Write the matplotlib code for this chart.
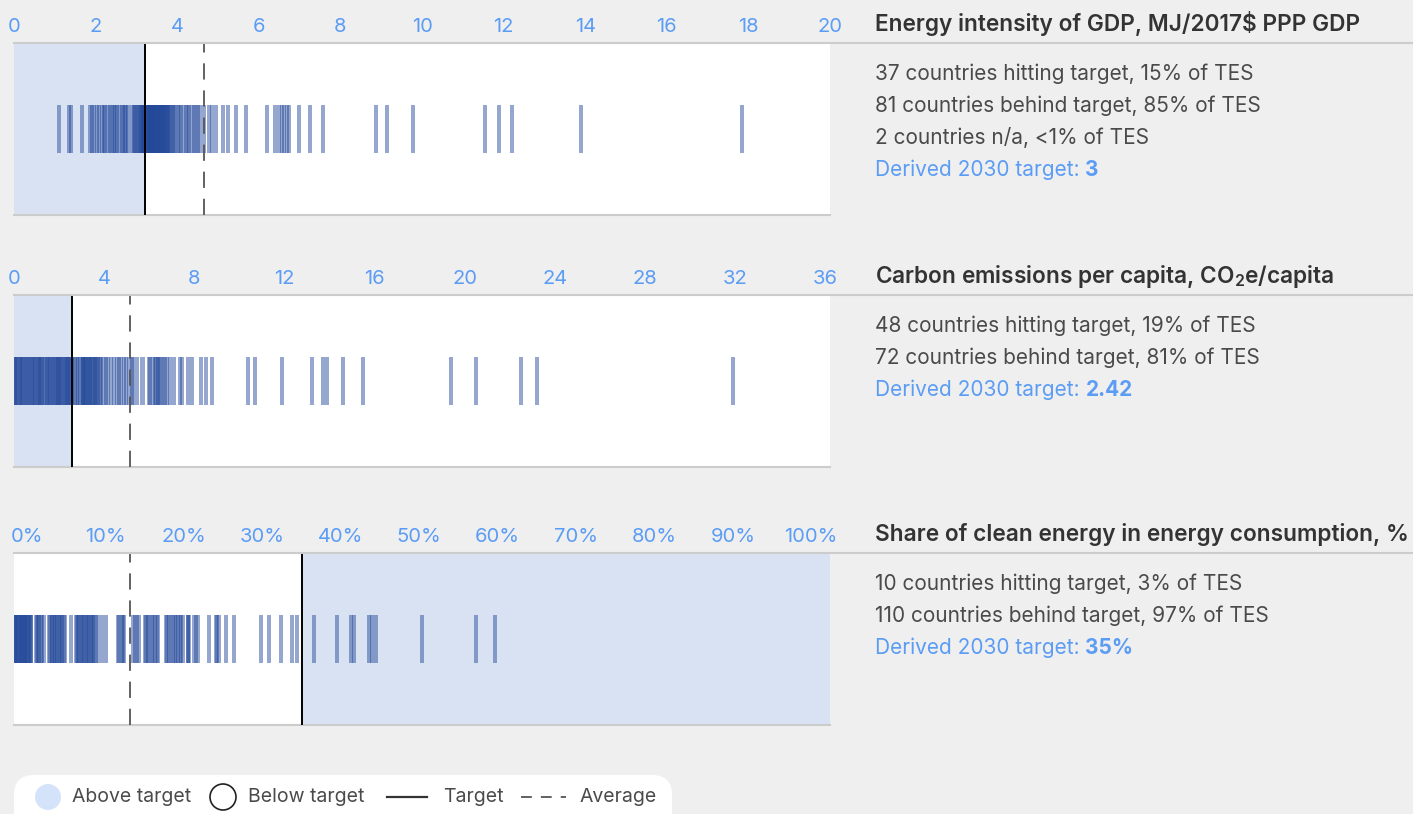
import matplotlib.pyplot as plt
from matplotlib.patches import Circle, FancyBboxPatch

plt.rcParams['font.family'] = ['Inter', 'DejaVu Sans']
plt.rcParams['mathtext.fontset'] = 'custom'
plt.rcParams['mathtext.rm'] = 'Inter'
plt.rcParams['mathtext.bf'] = 'Inter:semibold'

# --- данные ---
# 1) энергоёмкость ВВП
energy_hit = [1.10, 1.35, 1.40, 1.66, 1.86, 1.92, 2.03, 2.08, 2.16, 2.23, 2.30,
              2.36, 2.40, 2.47, 2.52, 2.57, 2.64, 2.67, 2.75, 2.80, 2.89, 2.93,
              2.97, 3.00, 3.04, 3.07, 3.10, 3.12, 3.14, 3.16, 3.17, 3.18, 3.19,
              2.44, 2.20, 1.97, 2.71]
energy_behind = [3.22, 3.25, 3.28, 3.31, 3.34, 3.37, 3.40, 3.43, 3.46, 3.50, 3.54, 3.58,
                 3.62, 3.66, 3.70, 3.74, 3.80, 3.86, 3.92, 3.97, 4.02, 4.10, 4.16, 4.22,
                 4.30, 4.36, 4.42, 4.50, 4.56, 4.66, 4.78, 4.86, 4.94, 5.12, 5.24, 5.43, 5.69,
                 6.19, 6.40, 6.50, 6.56, 6.62, 6.70, 6.74, 6.99, 7.25, 7.57, 8.87, 9.14,
                 9.78, 11.54, 11.89, 12.20, 13.90, 17.84,
                 3.33, 3.45, 3.52, 3.60, 3.68, 3.76, 3.83, 3.52, 3.40, 3.28, 3.36, 3.48,
                 3.56, 3.64, 3.72, 3.89, 4.06, 4.26, 3.24, 3.30, 3.38, 3.44, 3.58, 3.66,
                 3.78, 4.46]
energy_target = 3.2
energy_avg = 4.66

# 2) выбросы на душу населения
carbon_hit = [0.0, 0.05, 0.1, 0.15, 0.2, 0.25, 0.3, 0.35, 0.42, 0.48, 0.55, 0.6, 0.65, 0.72,
              0.78, 0.85, 0.9, 0.95, 1.0, 1.05, 1.1, 1.15, 1.2, 1.25, 1.32, 1.38, 1.45, 1.5,
              1.55, 1.62, 1.68, 1.75, 1.8, 1.85, 1.9, 1.95, 2.0, 2.05, 2.1, 2.15, 2.2, 2.25,
              2.3, 2.35, 2.4, 2.45, 2.5, 2.55]
carbon_behind = [2.62, 2.7, 2.78, 2.85, 2.95, 3.02, 3.05, 3.08, 3.14, 3.17, 3.2, 3.26, 3.32,
                 3.35, 3.38, 3.44, 3.5, 3.56, 3.6, 3.62, 3.68, 3.74, 3.8, 3.86, 3.97, 4.1,
                 4.18, 4.3, 4.42, 4.55, 4.65, 4.75, 4.88, 4.98, 5.1, 5.22, 5.28, 5.45, 5.7,
                 6.0, 6.05, 6.15, 6.25, 6.3, 6.4, 6.45, 6.5, 6.6, 6.7, 6.8, 6.9, 7.1, 7.35,
                 7.45, 7.7, 7.9, 8.3, 8.5, 8.8, 10.4, 10.7, 11.9, 13.2, 13.7, 13.9, 14.6, 15.5,
                 19.4, 20.5, 22.5, 23.2, 31.9]
carbon_target = 2.57
carbon_avg = 5.14

# 3) доля чистой энергии
clean_hit = [36.8, 39.6, 41.3, 41.7, 43.5, 43.9, 44.4, 50.0, 56.6, 58.9]
clean_behind = [0.0, 0.1, 0.2, 0.3, 0.4, 0.5, 0.6, 0.7, 0.8, 0.9, 1.0, 1.1, 1.2, 1.3, 1.4,
                1.5, 1.6, 1.7, 1.8, 1.9, 2.05, 2.1, 2.7, 2.8, 3.0, 3.1, 3.3, 3.4, 3.65, 4.3,
                4.4, 4.6, 4.7, 4.9, 5.0, 5.2, 5.3, 5.5, 5.6, 5.8, 5.9, 6.1, 6.2, 7.0, 7.6,
                7.7, 7.9, 8.0, 8.2, 8.3, 8.5, 8.6, 8.8, 9.0, 9.1, 9.2, 9.4, 9.5, 9.7, 9.8,
                10.0, 10.3, 10.8, 11.3, 12.8, 12.9, 13.2, 13.3, 13.5, 14.6, 14.8, 15.1, 15.3,
                16.0, 16.2, 16.4, 16.6, 16.9, 17.0, 17.3, 17.5, 17.7, 18.6, 18.8, 19.0, 19.2,
                19.5, 19.7, 19.9, 20.1, 20.3, 20.5, 20.7, 21.3, 21.35, 21.4, 22.0, 22.3, 22.6,
                23.9, 24.8, 24.9, 25.1, 26.0, 27.0, 30.3, 31.2, 32.7, 34.1, 34.7]
clean_target = 35.3
clean_avg = 14.2

titles = ['Energy intensity of GDP, MJ/2017$ PPP GDP',
          r'Carbon emissions per capita, CO$_\mathbf{2}$e/capita',
          'Share of clean energy in energy consumption, %']
notes = [['37 countries hitting target, 15% of TES',
          '81 countries behind target, 85% of TES',
          '2 countries n/a, <1% of TES'],
         ['48 countries hitting target, 19% of TES',
          '72 countries behind target, 81% of TES'],
         ['10 countries hitting target, 3% of TES',
          '110 countries behind target, 97% of TES']]
derived = ['3', '2.42', '35%']

tick_vals = [list(range(0, 21, 2)), list(range(0, 37, 4)), list(range(0, 101, 10))]
tick_labels = [[str(v) for v in tick_vals[0]], [str(v) for v in tick_vals[1]],
               [f'{v}%' for v in tick_vals[2]]]

BG = '#efefef'
SHADE = '#d9e2f2'
BAR = '#234899'
BLUE_TXT = '#5b9cf5'
GRAY_LINE = '#cccccc'
TXT = '#4a4a4a'

W, H = 1413, 814
fig = plt.figure(figsize=(W / 100, H / 100), dpi=100, facecolor=BG)

panels = [
    dict(hit=energy_hit, behind=energy_behind, target=energy_target, avg=energy_avg,
         xlim=(0, 20), width=0.1, top=43, shade='left'),
    dict(hit=carbon_hit, behind=carbon_behind, target=carbon_target, avg=carbon_avg,
         xlim=(0, 36.2), width=0.18, top=295, shade='left'),
    dict(hit=clean_hit, behind=clean_behind, target=clean_target, avg=clean_avg,
         xlim=(0, 100), width=0.49, top=553, shade='right'),
]

# оверлей в пикселях для текста, линий и легенды
ov = fig.add_axes([0, 0, 1, 1], zorder=5)
ov.set_xlim(0, W)
ov.set_ylim(H, 0)
ov.axis('off')

for i, p in enumerate(panels):
    top = p['top']
    ax = fig.add_axes([14 / W, 1 - (top + 172) / H, 816 / W, 172 / H], facecolor='white')
    ax.set_xlim(*p['xlim'])
    ax.set_ylim(0, 1)
    for s in ['top', 'left', 'right']:
        ax.spines[s].set_visible(False)
    ax.spines['bottom'].set_color(GRAY_LINE)
    ax.spines['bottom'].set_linewidth(1.5)
    ax.set_yticks([])

    if p['shade'] == 'left':
        ax.axvspan(0, p['target'], color=SHADE, lw=0, zorder=0)
    else:
        ax.axvspan(p['target'], p['xlim'][1], color=SHADE, lw=0, zorder=0)

    vals = p['hit'] + p['behind']
    ax.bar(vals, 0.28, bottom=0.36, width=p['width'], color=BAR, alpha=0.48, lw=0, zorder=2)

    ax.axvline(p['target'], color='black', lw=1.4, zorder=3)
    ax.axvline(p['avg'], color='#555555', lw=1.3, dashes=(9, 6), zorder=3)

    # подписи оси сверху
    ax.xaxis.tick_top()
    if i == 2:
        pos = [1.6 + v * 0.961 for v in tick_vals[2]]
    else:
        pos = tick_vals[i]
    ax.set_xticks(pos)
    ax.set_xticklabels(tick_labels[i], color=BLUE_TXT, fontsize=14.5)
    ax.tick_params(axis='x', length=0, pad=5)

    # линия заголовка и тексты справа
    ov.plot([14, W], [top, top], color=GRAY_LINE, lw=1.5)
    ov.text(875, top - 19, titles[i], fontsize=16.3, fontweight='semibold', color='#333333',
            va='center', ha='left')
    y = top + 31
    for line in notes[i]:
        ov.text(875, y, line, fontsize=15, color=TXT, va='center', ha='left')
        y += 32
    t = ov.text(875, y, 'Derived 2030 target: ', fontsize=15, color=BLUE_TXT,
                va='center', ha='left')
    ov.annotate(derived[i], xycoords=t, xy=(1, 0), va='bottom', ha='left',
                fontsize=15, fontweight='bold', color=BLUE_TXT)

# легенда
ov.add_patch(FancyBboxPatch((14, 775), 658, 70, boxstyle='round,pad=0,rounding_size=20',
                            fc='white', ec='none', clip_on=False))
ov.add_patch(Circle((48, 797), 13, fc='#d4e2fa', ec='none'))
ov.text(72, 797, 'Above target', fontsize=14, color=TXT, va='center')
ov.add_patch(Circle((223, 797), 13, fc='white', ec='#222222', lw=1.2))
ov.text(248, 797, 'Below target', fontsize=14, color=TXT, va='center')
ov.plot([387, 427], [797, 797], color='#333333', lw=1.6)
ov.text(443, 797, 'Target', fontsize=14, color=TXT, va='center')
ov.plot([521, 566], [797, 797], color='#555555', lw=1.3, dashes=(6, 5))
ov.text(580, 797, 'Average', fontsize=14, color=TXT, va='center')

plt.savefig('out.png', dpi=100, facecolor=BG)
